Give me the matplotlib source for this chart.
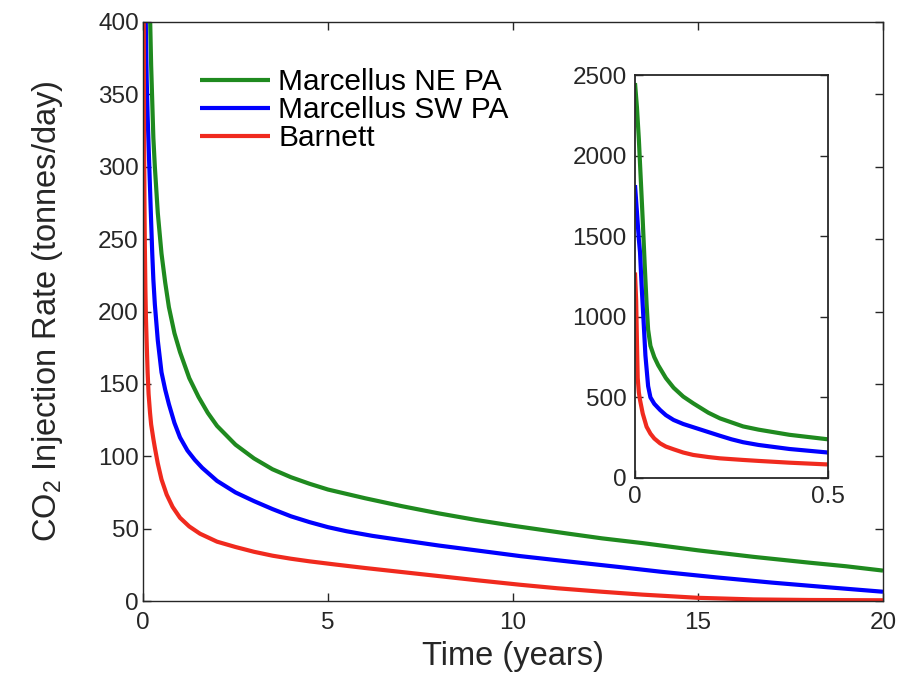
import matplotlib
matplotlib.use("Agg")
import matplotlib.pyplot as plt

plt.rcParams['font.family'] = ['Liberation Sans', 'DejaVu Sans']
plt.rcParams['mathtext.default'] = 'regular'

# Time (years) and CO2 injection rate (tonnes/day)
t_green = [0.0, 0.005, 0.01, 0.015, 0.02, 0.025, 0.03, 0.034, 0.04, 0.05, 0.06, 0.08,
           0.1, 0.125, 0.151, 0.19, 0.22, 0.25, 0.28, 0.32, 0.4, 0.5, 0.6, 0.7, 0.85,
           1.0, 1.25, 1.5, 1.75, 2.0, 2.5, 3.0, 3.5, 4.0, 4.5, 5.0, 5.5, 6.0,
           7.0, 8.0, 9.0, 10.0, 11.5, 12.4, 13.5, 15.0, 16.5, 18.0, 19.0, 20.0]
green = [2450, 2300, 2100, 1850, 1600, 1330, 1080, 920, 820, 750, 700, 620,
         560, 505, 463, 405, 370, 345, 320, 300, 268, 240, 220, 203, 185,
         172, 154, 141, 130, 121, 108, 98.5, 91, 85.5, 81, 77, 74, 71,
         65.5, 60.5, 56, 52, 46.5, 43.3, 40, 35, 30.5, 26.5, 24, 21]

t_blue = [0.0, 0.005, 0.01, 0.013, 0.017, 0.0216, 0.027, 0.034, 0.04, 0.05, 0.065, 0.08,
          0.1, 0.125, 0.151, 0.19, 0.22, 0.25, 0.28, 0.32, 0.4, 0.5, 0.6, 0.7, 0.85,
          1.0, 1.2, 1.4, 1.6, 2.0, 2.5, 3.0, 3.5, 4.0, 4.5, 5.0, 5.5, 6.2, 7.0,
          8.0, 9.0, 10.2, 11.5, 12.9, 14.0, 15.5, 17.0, 18.5, 20.0]
blue = [1817, 1650, 1480, 1400, 1200, 1000, 760, 570, 500, 460, 422, 390,
        360, 335, 315, 285, 262, 240, 222, 205, 180, 158, 146, 136, 123,
        113, 104, 97.5, 92, 83, 75, 69, 63.5, 58.5, 54.5, 51, 48.2, 45, 42,
        38.3, 35, 31, 27.3, 23.4, 20.2, 16.3, 12.7, 9.5, 6.4]

t_red = [0.0, 0.003, 0.005, 0.007, 0.01, 0.013, 0.02, 0.03, 0.04, 0.05, 0.065, 0.08,
         0.1, 0.125, 0.151, 0.19, 0.22, 0.25, 0.28, 0.32, 0.4, 0.5, 0.64, 0.8,
         1.0, 1.25, 1.54, 2.0, 2.5, 3.0, 3.5, 4.0, 4.5, 5.2, 6.0, 7.0, 8.0, 9.0,
         10.2, 11.2, 12.4, 13.5, 15.0, 16.5, 18.0, 20.0]
red = [1275, 1100, 850, 620, 530, 484, 400, 318, 275, 245, 215, 195,
       178, 158, 143, 130, 122, 117, 112, 106, 95, 84, 73.5, 65,
       57.5, 51.5, 46.5, 41, 37.3, 34, 31.3, 29.2, 27.4, 25.2, 22.8, 20, 17.2, 14.4,
       11.2, 8.8, 6.4, 4.4, 2.2, 1.1, 0.7, 0.5]

labels = ['Marcellus NE PA', 'Marcellus SW PA', 'Barnett']
colors = ['#1f8a1f', '#0000ff', '#f02a1e']

main_xticks = [0, 5, 10, 15, 20]
main_yticks = [0, 50, 100, 150, 200, 250, 300, 350, 400]
inset_xticks = [0, 0.5]
inset_xticklabels = ['0', '0.5']
inset_yticks = [0, 500, 1000, 1500, 2000, 2500]

series = [(t_green, green), (t_blue, blue), (t_red, red)]

fig = plt.figure(figsize=(9.14, 6.77), dpi=100)
ax = fig.add_axes([143/914, 1-601/677, (883-143)/914, (601-22)/677])
txtc = '#262626'
for (tt, vv), lab, c in zip(series, labels, colors):
    ax.plot(tt, vv, color=c, lw=3, label=lab, solid_capstyle='butt')
ax.set_xlim(0, 20)
ax.set_ylim(0, 400)
ax.set_xticks(main_xticks)
ax.set_yticks(main_yticks)
ax.tick_params(direction='in', length=6, width=1, top=True, right=True,
               labelsize=17.5, colors=txtc)
ax.tick_params(axis='x', pad=8)
ax.tick_params(axis='y', pad=3)
for s in ax.spines.values():
    s.set_color(txtc)
    s.set_linewidth(1)
ax.set_xlabel('Time (years)', fontsize=23.5, color=txtc, labelpad=5)
ax.set_ylabel('CO$_2$ Injection Rate (tonnes/day)', fontsize=23.5, color=txtc, labelpad=24)
leg = ax.legend(loc='upper left', bbox_to_anchor=(0.077, 0.92), frameon=False,
                fontsize=21.5, handlelength=2.35, handletextpad=0.27, labelspacing=0.0,
                borderaxespad=0, borderpad=0)
for t in leg.get_texts():
    t.set_color('black')

axi = fig.add_axes([635/914, 1-478/677, (828-635)/914, (478-75)/677])
for (tt, vv), c in zip(series, colors):
    axi.plot(tt, vv, color=c, lw=3, solid_capstyle='butt')
axi.set_xlim(0, 0.5)
axi.set_ylim(0, 2500)
axi.set_xticks(inset_xticks)
axi.set_xticklabels(inset_xticklabels)
axi.set_yticks(inset_yticks)
axi.tick_params(direction='in', length=6, width=1, top=False, right=True,
                labelsize=17.5, colors=txtc, pad=6)
for s in axi.spines.values():
    s.set_color(txtc)
    s.set_linewidth(1.3)

fig.savefig('out.png', dpi=100)
